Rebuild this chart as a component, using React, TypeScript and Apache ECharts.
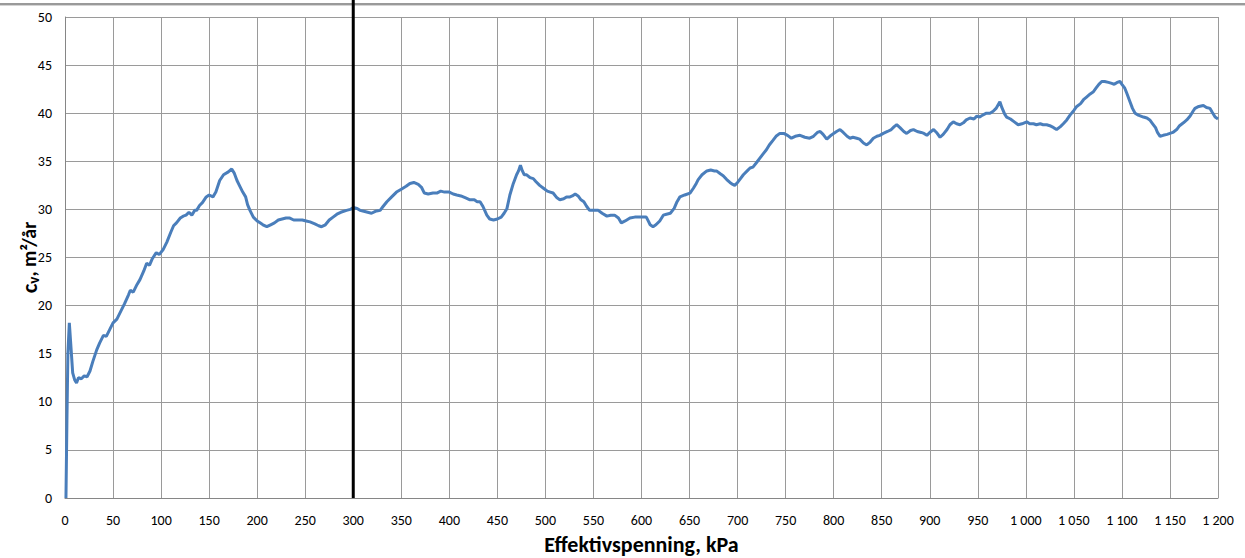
import React, { useEffect, useRef } from "react";
import * as echarts from "echarts";

const pressure = [
  1, 2, 3, 4.5, 6, 8, 10, 12, 14, 17, 20, 23, 26, 29, 33, 36, 40, 43, 47, 50, 54, 58, 62, 66, 68, 71, 75, 78, 82, 85,
  88, 91, 95, 98, 102, 106, 110, 113, 116, 120, 123, 126, 129, 132, 135, 137, 140, 143, 147, 150, 154, 157, 161, 165,
  170, 173.5, 176, 179, 182, 185, 188, 190, 192.5, 196, 200, 203, 206, 210, 214, 218, 222, 226, 230, 234, 238, 242,
  247, 251, 255, 260, 264, 267, 271, 275, 279, 283, 287, 293, 297, 300, 304, 307, 311, 315, 319, 323, 328, 331, 335,
  340, 345, 350, 355, 359, 363, 367.7, 371, 374, 378, 383, 387, 391, 395, 400, 404, 407.7, 412, 417, 421.5, 426, 429,
  432, 435, 439, 442, 446, 450, 454, 457, 460, 463, 466.6, 470, 472, 474, 476, 478, 480.5, 484, 487.4, 490, 494, 498,
  502, 505, 508, 512, 515, 519, 522, 525.6, 528, 531, 534, 537, 540, 543, 546, 550, 555, 559, 564, 568, 572, 576, 579,
  583, 588, 593, 598, 602, 605, 607, 609, 612, 615, 619, 622.7, 626, 630, 634, 637, 640, 645, 650.5, 654, 657, 659,
  663, 668, 672, 676, 678, 682, 685, 688.7, 692, 695, 697, 700, 703, 706, 710, 713, 716, 720, 723, 726.8, 730, 733,
  737, 740, 744, 748, 752, 756, 760, 765, 770, 775, 779, 783, 786, 789, 792.8, 796, 800, 803, 806.6, 810, 814, 817,
  820, 824, 827, 831, 834.4, 838, 841.3, 845, 848, 851.7, 856, 860, 863, 865.6, 869, 873, 876, 880, 883, 887, 891,
  894, 897, 900, 904, 907, 910.7, 914, 918, 921, 924.5, 928, 931.5, 935, 938, 942, 946, 949, 952, 955, 959, 962.7, 966,
  969, 973, 975, 978, 980, 984, 988, 992, 996, 1001, 1004, 1008, 1011, 1015, 1018, 1021.7, 1025, 1029, 1032, 1036,
  1039, 1042.6, 1046, 1050, 1053, 1057, 1060, 1063.5, 1067, 1070, 1073, 1076, 1079, 1082, 1086, 1089.4, 1092, 1095,
  1098, 1100, 1103, 1105, 1108, 1111, 1113.7, 1117, 1122.4, 1126, 1129, 1132, 1135, 1137, 1139.7, 1143, 1147, 1150,
  1153, 1157, 1160, 1164, 1167.5, 1171, 1174, 1176, 1180, 1184.8, 1188, 1191.7, 1194, 1197, 1200,
];

const cv = [
  0, 8, 15, 18.2, 16, 13, 12.3, 11.95, 12.5, 12.4, 12.7, 12.6, 13.2, 14.2, 15.4, 16.1, 16.9, 16.8, 17.6, 18.2, 18.6,
  19.4, 20.2, 21.1, 21.6, 21.4, 22.2, 22.7, 23.6, 24.4, 24.2, 24.9, 25.5, 25.3, 25.8, 26.6, 27.6, 28.3, 28.6, 29.1,
  29.3, 29.4, 29.7, 29.4, 29.9, 29.9, 30.4, 30.7, 31.3, 31.5, 31.3, 31.8, 33.0, 33.6, 33.9, 34.2, 33.8, 33.0, 32.4,
  31.8, 31.3, 30.5, 29.9, 29.2, 28.8, 28.6, 28.4, 28.2, 28.4, 28.6, 28.9, 29.0, 29.1, 29.1, 28.9, 28.9, 28.9, 28.8,
  28.7, 28.5, 28.3, 28.2, 28.4, 28.9, 29.2, 29.5, 29.7, 29.9, 30.0, 30.2, 30.1, 29.9, 29.8, 29.7, 29.6, 29.8, 29.9,
  30.3, 30.8, 31.3, 31.8, 32.1, 32.4, 32.7, 32.8, 32.6, 32.3, 31.7, 31.6, 31.7, 31.7, 31.9, 31.8, 31.8, 31.6, 31.5,
  31.4, 31.2, 31.0, 31.0, 30.8, 30.8, 30.3, 29.4, 29.0, 28.9, 29.0, 29.2, 29.6, 30.1, 31.5, 32.7, 33.6, 34.0, 34.6,
  34.0, 33.6, 33.6, 33.3, 33.2, 32.9, 32.5, 32.2, 31.9, 31.8, 31.7, 31.2, 31.0, 31.1, 31.3, 31.3, 31.4, 31.6, 31.4,
  31.0, 30.8, 30.3, 29.9, 29.9, 29.9, 29.6, 29.3, 29.4, 29.4, 29.1, 28.6, 28.8, 29.1, 29.2, 29.2, 29.2, 29.2, 28.8,
  28.4, 28.2, 28.4, 28.8, 29.4, 29.5, 29.6, 30.1, 30.8, 31.3, 31.5, 31.7, 32.2, 32.7, 33.1, 33.6, 34.0, 34.1, 34.0,
  34.0, 33.7, 33.5, 33.1, 32.8, 32.6, 32.5, 32.8, 33.2, 33.6, 34.0, 34.3, 34.4, 34.9, 35.3, 35.8, 36.2, 36.7, 37.2,
  37.6, 37.9, 37.9, 37.7, 37.4, 37.6, 37.7, 37.5, 37.4, 37.6, 38.0, 38.1, 37.8, 37.3, 37.6, 37.9, 38.1, 38.3, 38.0,
  37.6, 37.4, 37.5, 37.4, 37.3, 36.9, 36.7, 37.0, 37.4, 37.6, 37.7, 37.9, 38.1, 38.3, 38.6, 38.8, 38.5, 38.1, 37.9,
  38.2, 38.3, 38.1, 38.0, 37.9, 37.7, 38.0, 38.3, 38.0, 37.5, 37.8, 38.3, 38.8, 39.1, 38.9, 38.8, 39.0, 39.3, 39.5,
  39.4, 39.7, 39.6, 39.8, 40.0, 40.0, 40.2, 40.5, 41.2, 40.6, 39.9, 39.6, 39.4, 39.1, 38.8, 38.9, 39.1, 38.9, 38.9,
  38.8, 38.9, 38.8, 38.8, 38.7, 38.5, 38.3, 38.6, 38.9, 39.3, 39.8, 40.3, 40.7, 41.0, 41.4, 41.7, 42.0, 42.2, 42.6,
  43.0, 43.3, 43.3, 43.2, 43.1, 43.0, 43.2, 43.3, 43.0, 42.6, 42.1, 41.3, 40.5, 40.0, 39.8, 39.6, 39.5, 39.3, 38.9,
  38.5, 38.0, 37.6, 37.7, 37.8, 37.9, 38.0, 38.3, 38.7, 39.0, 39.3, 39.7, 40.2, 40.5, 40.7, 40.8, 40.6, 40.5, 40.1,
  39.6, 39.4,
];

const markerPressure = 300;
const xTitle = "Effektivspenning, kPa";
const yTitle = "{c|c}{v|v}{n|, m²/år}";

const FONT = "Carlito, Lato, 'Open Sans', sans-serif";

function fmtThousands(v: number): string {
  const s = String(v);
  return s.length > 3 ? s.slice(0, s.length - 3) + " " + s.slice(s.length - 3) : s;
}

export default function App() {
  const ref = useRef<HTMLDivElement>(null);
  useEffect(() => {
    const chart = echarts.init(ref.current!, null, { renderer: "svg" });
    const data = pressure.map((p, i) => [p, cv[i]]);
    chart.setOption({
      animation: false,
      backgroundColor: "#ffffff",
      grid: { left: 65, right: 27, top: 17, bottom: 60, containLabel: false, outerBoundsMode: "none" },
      xAxis: {
        type: "value",
        min: 0,
        max: 1200,
        interval: 50,
        name: xTitle,
        nameLocation: "middle",
        nameGap: 35,
        nameMoveOverlap: false,
        nameTextStyle: { fontFamily: FONT, fontWeight: "bold", fontSize: 22, color: "#000" },
        axisLine: { show: true, lineStyle: { color: "#868686", width: 1 } },
        axisTick: { show: false },
        axisLabel: {
          fontFamily: FONT,
          fontSize: 14,
          color: "#000",
          margin: 15,
          formatter: (v: number) => fmtThousands(v),
        },
        splitLine: { show: true, lineStyle: { color: "#9a9a9a", width: 1 } },
      },
      yAxis: {
        type: "value",
        min: 0,
        max: 50,
        interval: 5,
        name: yTitle,
        nameLocation: "middle",
        nameGap: 24,
        nameMoveOverlap: false,
        nameTextStyle: {
          rich: {
            c: { fontFamily: FONT, fontWeight: "bold", fontSize: 23, color: "#000" },
            v: { fontFamily: FONT, fontWeight: "bold", fontSize: 15, color: "#000", padding: [10, 0, 0, 0] },
            n: { fontFamily: FONT, fontWeight: "bold", fontSize: 20, color: "#000" },
          },
        },
        axisLine: { show: true, lineStyle: { color: "#868686", width: 1 } },
        axisTick: { show: false },
        axisLabel: { fontFamily: FONT, fontSize: 14, color: "#000", margin: 13 },
        splitLine: { show: true, lineStyle: { color: "#9a9a9a", width: 1 } },
      },
      series: [
        {
          type: "line",
          data,
          showSymbol: false,
          symbol: "none",
          lineStyle: { color: "#4a7ebb", width: 3 },
          z: 3,
        },
      ],
    });
    const xPx = chart.convertToPixel({ xAxisIndex: 0 }, markerPressure) as number;
    const yBottom = chart.convertToPixel({ yAxisIndex: 0 }, 0) as number;
    chart.setOption({
      graphic: [
        { id: "topband", type: "rect", shape: { x: 0, y: 3, width: 1245, height: 2 }, style: { fill: "#9a9a9a" }, z: 10 },
        { id: "topband2", type: "rect", shape: { x: 0, y: 5, width: 1245, height: 1 }, style: { fill: "#d4d4d4" }, z: 10 },
        {
          id: "marker",
          type: "line",
          shape: { x1: xPx, y1: 0, x2: xPx, y2: yBottom },
          style: { stroke: "#000", lineWidth: 3 },
          z: 20,
        },
      ],
    });
    return () => chart.dispose();
  }, []);
  return <div ref={ref} style={{ position: "absolute", left: 0, top: 0, width: 1245, height: 558 }} />;
}
